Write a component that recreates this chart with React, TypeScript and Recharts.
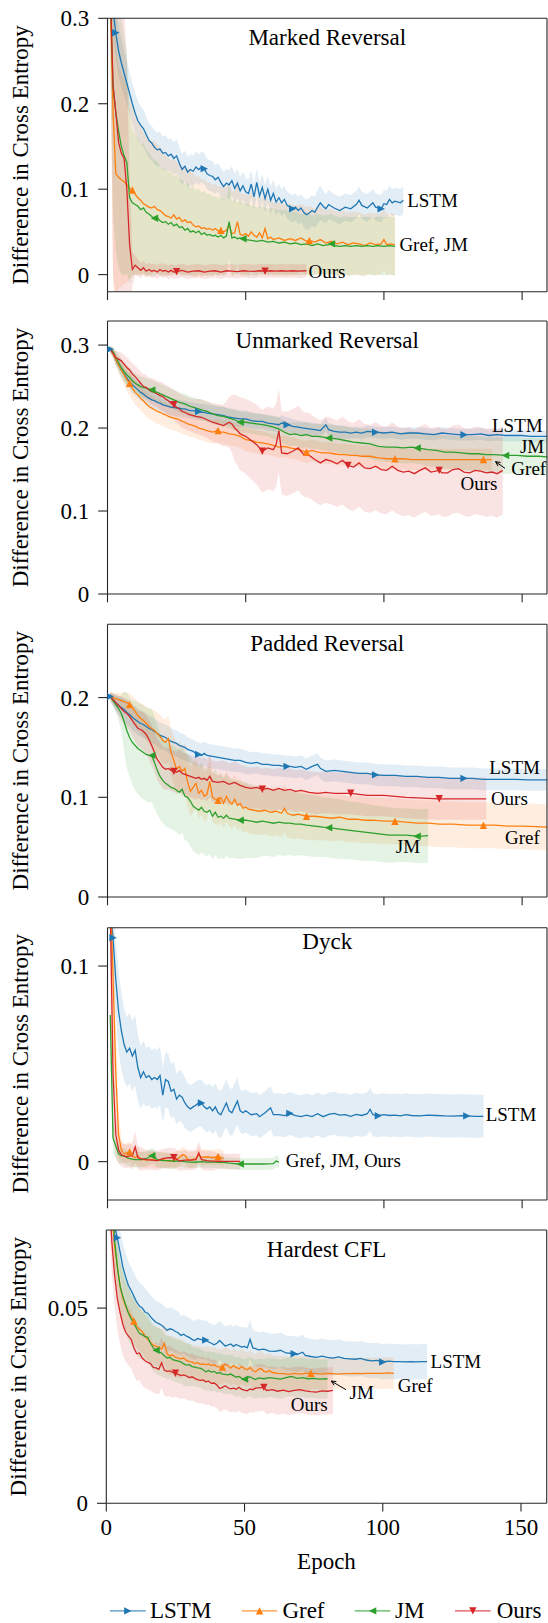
import React from 'react';
import { ComposedChart, Line, Area, XAxis, YAxis, ReferenceLine, ReferenceDot } from 'recharts';

type Row = [number, number, number]; // epoch, mean, std
type Model = 'LSTM' | 'Gref' | 'JM' | 'Ours';

const FONT = "'Liberation Serif', 'Times New Roman', 'DejaVu Serif', serif";
const AXIS = '#262626';
const CHART_W = 560;
const COLOR: Record<Model, string> = { LSTM: '#1f77b4', Gref: '#ff7f0e', JM: '#2ca02c', Ours: '#d62728' };
const SHAPE: Record<Model, string> = { LSTM: 'right', Gref: 'up', JM: 'left', Ours: 'down' };
const MODELS: Model[] = ['LSTM', 'Gref', 'JM', 'Ours'];
const epochTicks = [0, 50, 100, 150];

// ---------------- Marked Reversal ----------------
const markedLSTM: Row[] = [[1,.345,.03],[2,.31,.03],[3,.283,.03],[4,.262,.03],[5,.248,.028],[6,.236,.026],[7,.224,.025],[8,.212,.025],[9,.2,.024],[10,.189,.024],[11,.18,.023],[12,.175,.022],[13,.171,.022],[14,.164,.021],[15,.157,.02],[16,.154,.02],[17,.149,.02],[18,.146,.02],[19,.147,.02],[20,.142,.02],[21,.143,.02],[22,.139,.019],[23,.141,.019],[24,.136,.019],[25,.139,.02],[26,.13,.019],[27,.123,.018],[28,.127,.018],[29,.12,.018],[30,.123,.018],[31,.121,.018],[32,.126,.018],[33,.123,.018],[34,.126,.018],[35,.124,.018],[36,.118,.018],[37,.116,.018],[38,.115,.018],[39,.111,.017],[40,.114,.017],[41,.108,.017],[42,.103,.017],[43,.107,.017],[44,.105,.017],[45,.11,.017],[46,.101,.017],[47,.107,.017],[48,.098,.016],[49,.104,.016],[50,.097,.016],[51,.095,.016],[52,.106,.016],[53,.091,.016],[54,.108,.016],[55,.092,.016],[56,.102,.016],[57,.089,.016],[58,.1,.016],[59,.087,.016],[60,.095,.016],[61,.085,.016],[62,.09,.016],[63,.084,.016],[64,.088,.016],[65,.081,.016],[66,.079,.016],[67,.077,.016],[68,.079,.016],[69,.075,.016],[70,.078,.016],[71,.073,.017],[72,.07,.018],[73,.072,.018],[74,.075,.018],[75,.073,.018],[76,.079,.02],[77,.084,.02],[78,.08,.018],[79,.077,.017],[80,.082,.017],[82,.078,.016],[84,.075,.016],[86,.079,.016],[88,.077,.016],[90,.082,.016],[91,.087,.016],[92,.081,.016],[94,.078,.016],[96,.084,.016],[97,.079,.016],[99,.077,.016],[100,.083,.016],[101,.082,.016],[102,.088,.016],[103,.084,.016],[104,.086,.016],[106,.084,.016],[107,.087,.016]];
const markedGref: Row[] = [[1,.33,.05],[2,.19,.2],[3,.118,.15],[4,.114,.13],[5,.111,.125],[6,.109,.12],[7,.105,.115],[8,.101,.105],[9,.099,.1],[10,.094,.094],[11,.09,.09],[12,.087,.087],[13,.083,.084],[14,.081,.082],[15,.079,.08],[16,.078,.078],[17,.08,.077],[18,.076,.076],[19,.075,.075],[20,.072,.073],[21,.069,.071],[22,.068,.069],[23,.066,.068],[24,.07,.067],[25,.065,.066],[26,.067,.065],[27,.062,.064],[28,.064,.063],[29,.061,.062],[30,.062,.062],[31,.058,.06],[32,.056,.059],[33,.057,.058],[34,.054,.057],[35,.055,.056],[36,.053,.055],[37,.054,.054],[38,.052,.053],[39,.054,.053],[40,.051,.052],[41,.052,.052],[42,.05,.051],[43,.052,.051],[44,.058,.05],[45,.048,.05],[46,.049,.049],[47,.062,.049],[48,.047,.048],[49,.046,.048],[50,.048,.047],[51,.045,.047],[52,.05,.046],[53,.046,.046],[54,.044,.045],[55,.049,.045],[56,.043,.044],[57,.054,.044],[58,.042,.044],[59,.044,.043],[60,.041,.043],[62,.043,.042],[64,.04,.042],[66,.042,.041],[68,.04,.041],[70,.043,.04],[72,.039,.04],[73,.04,.04],[75,.038,.039],[77,.041,.039],[79,.037,.038],[81,.039,.038],[83,.036,.038],[85,.038,.037],[87,.035,.037],[89,.037,.037],[91,.036,.037],[93,.034,.036],[95,.037,.036],[97,.035,.036],[99,.036,.036],[100,.041,.036],[101,.035,.036],[102,.036,.036],[104,.035,.036]];
const markedJM: Row[] = [[1,.33,.1],[2,.22,.15],[3,.19,.16],[4,.168,.16],[5,.15,.15],[6,.139,.14],[7,.131,.13],[8,.09,.1],[9,.084,.085],[10,.082,.082],[11,.08,.08],[12,.076,.076],[13,.078,.076],[14,.073,.074],[15,.071,.072],[16,.068,.07],[17,.066,.068],[18,.067,.066],[19,.063,.064],[20,.061,.062],[21,.062,.062],[22,.059,.06],[23,.061,.06],[24,.057,.058],[25,.059,.058],[26,.055,.056],[27,.056,.056],[28,.052,.054],[29,.054,.054],[30,.05,.052],[31,.051,.052],[32,.049,.05],[33,.051,.05],[34,.047,.049],[35,.049,.049],[36,.046,.048],[37,.047,.048],[38,.045,.047],[39,.046,.046],[40,.044,.046],[41,.046,.045],[42,.043,.045],[43,.045,.044],[44,.062,.044],[45,.043,.044],[46,.044,.043],[47,.042,.043],[48,.043,.042],[49,.042,.042],[50,.041,.042],[52,.04,.041],[54,.039,.04],[56,.04,.04],[58,.038,.039],[60,.039,.039],[62,.037,.038],[64,.038,.038],[66,.036,.037],[68,.037,.037],[70,.035,.036],[72,.036,.036],[74,.034,.035],[76,.036,.035],[78,.034,.035],[80,.035,.035],[81,.036,.035],[82,.034,.035],[84,.033,.034],[86,.034,.034],[88,.033,.034],[90,.034,.034],[92,.033,.034],[94,.034,.034],[96,.033,.034],[98,.034,.034],[100,.033,.034],[102,.034,.034],[104,.033,.034]];
const markedOurs: Row[] = [[1,.34,.05],[2,.222,.22],[3,.19,.22],[4,.155,.22],[5,.142,.2],[6,.136,.18],[7,.1,.15],[8,.035,.08],[9,.006,.02],[10,.011,.012],[11,.008,.01],[12,.005,.009],[13,.008,.008],[14,.004,.008],[15,.006,.008],[16,.004,.008],[17,.005,.008],[18,.003,.008],[19,.006,.008],[20,.004,.008],[21,.005,.008],[22,.003,.008],[23,.005,.008],[24,.003,.008],[25,.0035,.008],[27,.005,.008],[29,.003,.008],[31,.004,.008],[33,.0045,.008],[35,.003,.008],[37,.004,.008],[39,.0045,.008],[41,.003,.008],[43,.0045,.008],[45,.004,.008],[47,.0035,.008],[49,.0045,.008],[51,.004,.008],[53,.0038,.008],[55,.0045,.008],[57,.004,.008],[59,.0045,.008],[61,.004,.008],[63,.0045,.008],[65,.004,.008],[67,.0045,.008],[69,.004,.008],[72,.0045,.008]];
const markedLSTMMarks = [3, 35, 67, 99];
const markedGrefMarks = [9, 41, 73];
const markedJMMarks = [17, 49, 81];
const markedOursMarks = [25, 57];

// ---------------- Unmarked Reversal ----------------
const unmarkedLSTM: Row[] = [[1,.295,.004],[2,.291,.005],[3,.283,.006],[4,.276,.007],[5,.27,.008],[6,.265,.008],[7,.26,.009],[8,.256,.009],[9,.252,.01],[10,.249,.01],[11,.246,.01],[12,.243,.01],[13,.241,.01],[14,.238,.01],[15,.236,.01],[16,.234,.01],[17,.233,.01],[18,.231,.01],[19,.23,.01],[20,.228,.01],[21,.227,.01],[22,.226,.01],[23,.225,.01],[24,.225,.01],[25,.224,.01],[26,.224,.01],[27,.223,.01],[28,.223,.01],[29,.222,.01],[30,.221,.01],[31,.221,.01],[32,.22,.01],[33,.22,.01],[34,.219,.01],[35,.219,.01],[36,.218,.01],[38,.217,.01],[40,.216,.01],[42,.215,.01],[44,.213,.01],[46,.212,.01],[48,.211,.01],[50,.211,.01],[52,.209,.009],[54,.208,.009],[56,.208,.009],[58,.206,.009],[60,.205,.009],[62,.204,.009],[63,.206,.009],[65,.204,.009],[67,.202,.009],[69,.201,.008],[71,.2,.008],[73,.199,.008],[75,.198,.008],[77,.197,.008],[79,.204,.008],[80,.198,.008],[82,.196,.008],[84,.195,.008],[86,.195,.008],[88,.194,.007],[90,.195,.007],[92,.194,.007],[94,.196,.007],[97,.195,.007],[100,.194,.007],[103,.195,.007],[106,.193,.007],[109,.194,.007],[112,.194,.007],[115,.193,.007],[118,.192,.007],[121,.194,.007],[124,.193,.007],[127,.192,.007],[129,.192,.007],[132,.192,.007],[135,.193,.007],[138,.191,.007],[141,.192,.007],[144,.191,.007],[147,.191,.007],[150,.191,.007],[153,.19,.007],[156,.19,.007],[160,.19,.007]];
const unmarkedGref: Row[] = [[1,.295,.004],[2,.29,.006],[3,.283,.008],[4,.276,.01],[5,.27,.012],[6,.264,.013],[7,.258,.014],[8,.254,.015],[9,.248,.015],[10,.243,.015],[11,.24,.015],[12,.236,.015],[13,.233,.015],[14,.229,.015],[15,.226,.015],[16,.224,.015],[17,.222,.015],[18,.22,.015],[19,.219,.015],[20,.217,.015],[21,.216,.015],[22,.214,.015],[23,.213,.015],[24,.212,.015],[25,.211,.015],[26,.21,.015],[27,.208,.015],[28,.207,.015],[29,.205,.015],[30,.204,.015],[31,.203,.014],[32,.202,.014],[33,.2,.014],[34,.199,.014],[35,.198,.014],[36,.197,.014],[37,.196,.014],[38,.195,.014],[39,.196,.014],[40,.197,.014],[41,.195,.014],[42,.195,.014],[44,.193,.014],[46,.192,.014],[48,.19,.014],[50,.186,.014],[52,.185,.014],[54,.183,.014],[56,.182,.014],[58,.181,.013],[60,.179,.013],[62,.177,.013],[64,.178,.013],[66,.176,.013],[68,.175,.013],[70,.173,.013],[72,.171,.013],[74,.173,.013],[76,.171,.013],[78,.17,.013],[80,.17,.013],[82,.169,.013],[84,.168,.013],[86,.168,.013],[88,.167,.013],[90,.167,.013],[92,.166,.013],[95,.166,.013],[98,.164,.013],[101,.163,.013],[104,.163,.013],[107,.163,.013],[110,.162,.013],[114,.162,.013],[118,.162,.013],[122,.162,.013],[126,.162,.013],[130,.162,.013],[134,.162,.013],[136,.162,.013],[139,.162,.013]];
const unmarkedJM: Row[] = [[1,.295,.004],[2,.292,.006],[3,.285,.008],[4,.279,.01],[5,.273,.011],[6,.268,.012],[7,.264,.012],[8,.261,.012],[9,.257,.012],[10,.254,.012],[11,.252,.012],[12,.25,.012],[14,.248,.012],[16,.246,.012],[18,.243,.012],[20,.24,.012],[22,.237,.012],[24,.234,.012],[26,.231,.012],[28,.229,.012],[30,.226,.012],[32,.224,.012],[34,.222,.012],[36,.22,.012],[38,.217,.012],[40,.215,.012],[42,.214,.012],[44,.212,.012],[46,.21,.013],[48,.207,.013],[50,.207,.013],[52,.206,.013],[54,.205,.013],[56,.204,.013],[58,.203,.013],[60,.201,.014],[62,.199,.014],[64,.195,.014],[66,.192,.014],[68,.193,.014],[70,.191,.015],[72,.192,.015],[74,.19,.015],[76,.19,.015],[78,.189,.016],[80,.188,.016],[83,.187,.016],[86,.185,.017],[89,.183,.017],[92,.182,.017],[95,.181,.018],[98,.178,.018],[101,.177,.018],[104,.177,.018],[107,.176,.019],[110,.177,.019],[112,.176,.019],[116,.174,.02],[119,.173,.02],[122,.171,.02],[125,.171,.02],[128,.17,.02],[131,.169,.021],[134,.169,.021],[137,.168,.021],[140,.168,.021],[144,.167,.022],[148,.167,.022],[152,.166,.022],[156,.166,.022],[160,.165,.022]];
const unmarkedOurs: Row[] = [[1,.295,.004],[2,.29,.006],[3,.285,.008],[4,.283,.009],[5,.281,.01],[6,.277,.011],[7,.273,.012],[8,.27,.012],[9,.265,.013],[10,.262,.013],[11,.258,.014],[12,.254,.014],[13,.25,.015],[14,.249,.015],[15,.246,.015],[16,.244,.016],[17,.243,.016],[18,.241,.016],[19,.239,.017],[20,.238,.017],[21,.235,.017],[22,.233,.018],[23,.23,.018],[24,.228,.018],[25,.225,.019],[26,.223,.019],[27,.22,.02],[28,.219,.02],[29,.217,.02],[30,.216,.02],[32,.214,.021],[34,.213,.022],[36,.21,.022],[38,.207,.023],[40,.205,.024],[42,.203,.025],[44,.207,.03],[45,.205,.035],[46,.2,.04],[47,.197,.042],[48,.193,.044],[50,.19,.045],[52,.185,.047],[54,.18,.048],[56,.172,.05],[58,.176,.05],[60,.174,.05],[61,.18,.05],[62,.197,.05],[63,.17,.05],[65,.169,.051],[67,.172,.051],[69,.176,.051],[71,.168,.051],[73,.167,.051],[75,.162,.051],[77,.158,.051],[79,.162,.052],[81,.16,.052],[83,.157,.052],[85,.161,.053],[87,.155,.053],[89,.153,.053],[91,.158,.053],[93,.152,.053],[95,.151,.053],[97,.154,.053],[99,.15,.053],[101,.149,.053],[103,.154,.053],[105,.149,.053],[107,.147,.053],[109,.148,.053],[111,.145,.053],[113,.149,.053],[115,.152,.053],[117,.147,.053],[120,.149,.053],[121,.146,.053],[123,.146,.053],[125,.15,.053],[127,.151,.053],[129,.147,.053],[131,.146,.053],[133,.149,.053],[135,.148,.053],[137,.146,.053],[139,.147,.053],[141,.145,.053],[143,.149,.053]];
const unmarkedLSTMMarks = [1, 33, 65, 97, 129];
const unmarkedGrefMarks = [8, 40, 72, 104, 136];
const unmarkedJMMarks = [16, 48, 80, 112, 144];
const unmarkedOursMarks = [24, 56, 88, 120];

// ---------------- Padded Reversal ----------------
const paddedLSTM: Row[] = [[1,.201,.004],[2,.198,.006],[3,.195,.008],[4,.192,.009],[5,.19,.01],[6,.188,.011],[7,.185,.012],[8,.183,.012],[9,.18,.013],[10,.178,.013],[11,.176,.013],[12,.174,.013],[13,.173,.013],[14,.171,.013],[15,.169,.013],[16,.168,.013],[17,.166,.013],[18,.164,.013],[19,.162,.013],[20,.161,.013],[21,.16,.013],[22,.158,.013],[23,.156,.013],[24,.155,.013],[25,.154,.013],[26,.152,.013],[27,.151,.013],[28,.15,.013],[29,.148,.012],[30,.147,.012],[31,.146,.012],[32,.144,.012],[33,.143,.012],[34,.142,.012],[35,.144,.012],[36,.142,.012],[38,.141,.012],[40,.14,.012],[42,.139,.012],[44,.138,.012],[46,.137,.012],[48,.137,.012],[50,.135,.012],[52,.134,.011],[54,.135,.011],[56,.133,.011],[58,.133,.011],[60,.132,.011],[62,.132,.011],[64,.131,.011],[65,.131,.011],[66,.131,.011],[68,.13,.011],[70,.131,.011],[72,.128,.011],[74,.131,.011],[76,.133,.011],[77,.129,.011],[79,.126,.011],[82,.127,.011],[85,.126,.011],[88,.125,.011],[91,.124,.011],[94,.124,.011],[97,.1225,.011],[100,.122,.011],[104,.122,.011],[108,.121,.011],[112,.121,.011],[116,.12,.011],[120,.12,.011],[124,.119,.011],[129,.119,.011],[132,.119,.011],[136,.118,.011],[140,.118,.011],[144,.118,.011],[148,.118,.011],[152,.1175,.011],[156,.1175,.011],[160,.1175,.011]];
const paddedGref: Row[] = [[1,.202,.004],[2,.2,.005],[3,.199,.006],[4,.198,.007],[5,.197,.008],[6,.196,.009],[7,.195,.01],[8,.193,.011],[9,.19,.012],[10,.186,.013],[11,.182,.014],[12,.179,.015],[13,.177,.016],[14,.174,.017],[15,.171,.018],[16,.169,.019],[17,.167,.02],[18,.164,.021],[19,.161,.022],[20,.157,.022],[21,.155,.023],[22,.159,.023],[23,.145,.024],[24,.137,.024],[25,.128,.025],[26,.131,.025],[27,.126,.025],[28,.129,.025],[29,.115,.025],[30,.106,.025],[31,.11,.025],[32,.114,.025],[33,.104,.025],[34,.107,.025],[35,.101,.025],[36,.103,.025],[37,.116,.025],[38,.1,.025],[39,.098,.025],[40,.097,.025],[41,.1,.025],[42,.094,.025],[43,.101,.025],[44,.096,.025],[45,.093,.025],[46,.098,.025],[47,.092,.025],[48,.094,.025],[49,.089,.024],[50,.09,.024],[51,.088,.024],[53,.087,.024],[55,.086,.024],[57,.087,.024],[59,.085,.024],[61,.086,.024],[63,.084,.024],[64,.089,.024],[65,.084,.024],[67,.082,.024],[69,.083,.024],[72,.081,.024],[75,.081,.024],[78,.08,.023],[81,.079,.023],[84,.08,.023],[87,.078,.023],[90,.078,.023],[93,.077,.023],[96,.077,.023],[100,.076,.023],[104,.076,.023],[108,.075,.023],[112,.074,.023],[116,.074,.023],[120,.073,.023],[125,.073,.023],[130,.072,.023],[136,.072,.023],[140,.072,.023],[145,.071,.023],[150,.071,.023],[155,.0705,.023],[160,.07,.023]];
const paddedJM: Row[] = [[1,.201,.004],[2,.197,.006],[3,.193,.008],[4,.189,.012],[5,.184,.018],[6,.176,.03],[7,.167,.038],[8,.16,.04],[9,.155,.042],[10,.152,.045],[11,.149,.046],[12,.147,.047],[13,.145,.047],[14,.143,.047],[15,.142,.047],[16,.142,.047],[17,.135,.046],[18,.127,.044],[19,.121,.043],[20,.117,.043],[21,.114,.043],[22,.112,.042],[23,.11,.042],[24,.109,.042],[25,.107,.042],[26,.105,.043],[27,.108,.043],[28,.101,.044],[29,.1,.044],[30,.096,.045],[31,.091,.045],[32,.089,.045],[33,.087,.045],[34,.09,.045],[35,.086,.044],[36,.085,.044],[37,.087,.044],[38,.081,.043],[39,.085,.043],[40,.08,.042],[41,.081,.042],[42,.079,.041],[43,.082,.041],[44,.079,.04],[46,.078,.039],[48,.077,.039],[50,.077,.038],[52,.076,.037],[54,.075,.036],[56,.076,.035],[58,.075,.034],[60,.074,.034],[62,.075,.033],[64,.074,.033],[66,.074,.032],[68,.073,.032],[70,.073,.031],[72,.072,.031],[75,.071,.031],[78,.07,.03],[80,.0695,.03],[84,.068,.03],[87,.067,.029],[90,.066,.029],[93,.065,.029],[96,.064,.028],[99,.063,.028],[102,.062,.028],[105,.062,.027],[108,.062,.027],[112,.061,.027],[114,.061,.027],[116,.0615,.027]];
const paddedOurs: Row[] = [[1,.201,.004],[2,.198,.006],[3,.195,.008],[4,.192,.01],[5,.189,.012],[6,.186,.013],[7,.184,.014],[8,.181,.015],[9,.177,.016],[10,.173,.017],[11,.169,.018],[12,.168,.018],[13,.166,.019],[14,.163,.019],[15,.158,.02],[16,.152,.02],[17,.145,.02],[18,.138,.021],[19,.134,.021],[20,.13,.021],[21,.128,.021],[22,.129,.021],[23,.127,.021],[24,.126,.021],[25,.125,.021],[26,.127,.021],[27,.124,.021],[28,.123,.021],[29,.122,.021],[30,.121,.021],[31,.12,.021],[32,.119,.021],[33,.12,.021],[34,.118,.021],[35,.119,.021],[36,.117,.021],[37,.121,.021],[38,.116,.021],[40,.115,.021],[42,.116,.021],[44,.113,.021],[46,.115,.021],[48,.112,.021],[50,.11,.021],[52,.109,.021],[54,.11,.021],[56,.108,.021],[58,.109,.021],[60,.107,.021],[62,.109,.021],[64,.107,.021],[66,.108,.021],[68,.106,.021],[70,.107,.021],[73,.105,.021],[76,.104,.021],[79,.105,.021],[82,.104,.021],[85,.104,.021],[88,.104,.021],[91,.103,.021],[94,.102,.021],[97,.102,.021],[100,.102,.021],[104,.101,.021],[108,.1,.021],[112,.0995,.021],[116,.099,.021],[120,.0985,.021],[124,.0985,.021],[128,.0985,.021],[132,.0985,.021],[137,.0985,.021]];
const paddedLSTMMarks = [1, 33, 65, 97, 129];
const paddedGrefMarks = [8, 40, 72, 104, 136];
const paddedJMMarks = [16, 48, 80, 112];
const paddedOursMarks = [24, 56, 88, 120];

// ---------------- Dyck ----------------
const dyckLSTM: Row[] = [[1,.128,.02],[2,.1145,.02],[3,.093,.02],[4,.077,.02],[5,.067,.02],[6,.06,.018],[7,.056,.018],[8,.058,.018],[9,.054,.018],[10,.057,.018],[11,.048,.017],[12,.043,.016],[13,.046,.016],[14,.043,.015],[15,.044,.015],[16,.042,.015],[17,.043,.015],[18,.042,.015],[19,.044,.015],[20,.034,.014],[21,.042,.014],[22,.041,.014],[23,.036,.014],[24,.037,.014],[25,.032,.013],[26,.034,.013],[27,.033,.013],[28,.03,.013],[29,.028,.012],[30,.027,.012],[31,.028,.012],[32,.029,.012],[33,.03,.012],[34,.03,.012],[35,.028,.012],[36,.027,.012],[37,.028,.012],[38,.026,.012],[39,.028,.012],[40,.025,.012],[41,.024,.012],[42,.027,.012],[43,.03,.012],[44,.026,.012],[45,.025,.012],[46,.028,.012],[47,.031,.012],[48,.026,.011],[49,.025,.011],[50,.026,.011],[52,.024,.011],[54,.0245,.011],[55,.023,.011],[57,.025,.011],[59,.0275,.011],[60,.024,.011],[62,.024,.011],[64,.0235,.011],[66,.0247,.011],[68,.0235,.011],[70,.023,.011],[72,.0238,.011],[74,.023,.011],[76,.0245,.011],[78,.023,.011],[80,.0242,.011],[82,.0247,.011],[84,.0238,.011],[86,.024,.011],[88,.0232,.011],[90,.0242,.011],[92,.0236,.011],[94,.0245,.011],[95,.0268,.011],[96,.024,.011],[98,.0235,.011],[100,.024,.011],[102,.0236,.011],[104,.0238,.011],[106,.0234,.011],[108,.024,.011],[110,.0236,.011],[113,.0234,.011],[116,.0238,.011],[119,.0236,.011],[122,.0234,.011],[125,.0233,.011],[128,.0235,.011],[130,.0234,.011],[133,.0232,.011],[136,.0232,.011]];
const dyckGref: Row[] = [[1,.14,.02],[2,.095,.03],[3,.045,.025],[4,.014,.012],[5,.006,.006],[6,.004,.005],[7,.0045,.005],[8,.005,.005],[9,.003,.005],[10,.002,.005],[11,.003,.005],[12,.001,.004],[13,.0012,.004],[14,.0008,.004],[16,.0012,.004],[18,.0005,.004],[20,.001,.004],[22,.0003,.004],[24,.0005,.004],[26,.002,.004],[27,.0035,.004],[28,.0032,.004],[29,.001,.004],[30,.0008,.004],[32,.0015,.004],[33,.0035,.004],[34,.002,.004],[36,.0025,.004],[38,.002,.004],[40,.0026,.004],[41,.0022,.004],[42,.0015,.004]];
const dyckJM: Row[] = [[1,.075,.02],[2,.012,.008],[3,.008,.006],[4,.004,.005],[5,.003,.004],[6,.003,.004],[7,.002,.004],[8,.0015,.004],[10,.001,.004],[12,.001,.004],[14,.0015,.004],[16,.003,.004],[17,.0025,.004],[18,.001,.004],[20,.0006,.004],[22,.0005,.004],[24,.0002,.004],[26,.0004,.003],[28,0,.003],[30,-.0002,.003],[32,-.0003,.003],[34,0,.003],[36,-.0002,.003],[38,-.0001,.003],[40,-.0004,.003],[42,-.0003,.003],[44,-.0008,.003],[46,-.001,.003],[48,-.0012,.003],[50,-.0012,.003],[52,-.0012,.003],[54,-.0012,.003],[56,-.0012,.003],[58,-.0011,.003],[60,-.001,.003],[61,.0003,.003],[62,-.0002,.003]];
const dyckOurs: Row[] = [[1,.13,.03],[2,.045,.03],[3,.014,.012],[4,.006,.007],[5,.0035,.006],[6,.003,.006],[7,.0025,.006],[8,.003,.006],[9,.003,.007],[10,.0075,.008],[11,.002,.006],[12,.0015,.006],[14,.001,.005],[16,.0008,.005],[18,.0005,.005],[20,.0015,.005],[22,.002,.005],[24,.002,.005],[26,.0004,.005],[28,.0008,.005],[30,.0008,.005],[32,.001,.005],[33,.0045,.006],[34,.001,.005],[36,.0005,.005],[38,.0003,.005],[40,.0002,.004],[42,.0001,.004],[44,.0001,.004],[46,.0001,.004],[48,.0001,.004]];
const dyckLSTMMarks = [2, 34, 66, 98, 130];
const dyckGrefMarks = [8, 40];
const dyckJMMarks = [16, 48];
const dyckOursMarks = [24];

// ---------------- Hardest CFL ----------------
const cflLSTM: Row[] = [[1,.085,.006],[2,.078,.006],[3,.071,.006],[4,.068,.006],[5,.0643,.006],[6,.0605,.006],[7,.058,.006],[8,.0558,.006],[9,.0545,.006],[10,.053,.006],[11,.0515,.006],[12,.0505,.006],[13,.05,.006],[14,.049,.006],[15,.0487,.0055],[16,.0478,.0055],[17,.047,.0055],[18,.0463,.0055],[19,.046,.0055],[20,.0456,.0055],[21,.045,.0055],[22,.0443,.0055],[23,.0447,.0055],[24,.0445,.0055],[25,.044,.0055],[26,.0437,.0055],[27,.043,.005],[28,.0433,.005],[29,.0428,.005],[30,.0425,.005],[31,.042,.005],[32,.0417,.005],[33,.0422,.005],[34,.042,.005],[35,.0418,.005],[36,.0418,.005],[37,.0413,.005],[38,.041,.005],[39,.0406,.005],[40,.041,.005],[41,.0417,.005],[42,.041,.005],[43,.0403,.005],[44,.0405,.005],[45,.0408,.005],[46,.0402,.005],[47,.0407,.005],[48,.0403,.005],[49,.04,.005],[50,.0402,.005],[51,.0398,.005],[52,.042,.005],[53,.0398,.0045],[54,.0396,.0045],[55,.0393,.0045],[57,.0395,.0045],[59,.039,.0045],[61,.0389,.0045],[63,.0392,.0045],[65,.0385,.0045],[68,.0383,.0045],[69,.0381,.0045],[71,.0387,.0045],[72,.0379,.0045],[74,.0376,.0045],[76,.0374,.0045],[78,.0377,.0045],[80,.0374,.0045],[82,.0372,.0045],[84,.0375,.0045],[86,.0371,.0045],[88,.037,.0045],[90,.0369,.0045],[92,.0371,.0045],[94,.0367,.0045],[96,.0365,.0045],[98,.0366,.0045],[100,.0362,.0045],[102,.0364,.0045],[104,.0363,.0045],[106,.0363,.0045],[108,.0362,.0045],[110,.0363,.0045],[112,.0362,.0045],[114,.0363,.0045],[116,.0363,.0045]];
const cflGref: Row[] = [[1,.09,.006],[2,.075,.006],[3,.066,.006],[4,.0605,.006],[5,.0555,.006],[6,.0525,.006],[7,.0505,.006],[8,.049,.006],[9,.0478,.0055],[10,.0467,.0055],[11,.0453,.0055],[12,.0445,.0055],[13,.044,.0055],[14,.0428,.0055],[15,.042,.0055],[16,.0412,.005],[17,.0405,.005],[18,.0402,.005],[19,.04,.005],[20,.0395,.005],[21,.041,.005],[22,.0382,.005],[23,.0378,.005],[24,.038,.005],[25,.0374,.005],[26,.0372,.005],[27,.037,.005],[28,.0372,.0045],[29,.0366,.0045],[30,.0363,.0045],[31,.0362,.0045],[32,.0358,.0045],[33,.036,.0045],[34,.0356,.0045],[35,.0357,.0045],[36,.0355,.0045],[37,.0357,.0045],[38,.0353,.0045],[39,.0355,.0045],[40,.035,.0045],[42,.0349,.0045],[43,.0356,.0045],[44,.0353,.0045],[45,.0346,.0045],[46,.0352,.0045],[47,.0348,.0045],[48,.0344,.0045],[49,.0351,.0045],[50,.0345,.0045],[51,.0342,.0045],[52,.0348,.0045],[53,.034,.0045],[54,.0337,.0045],[55,.0343,.0045],[56,.0345,.0045],[57,.0338,.0045],[58,.0336,.0045],[59,.034,.0045],[60,.0335,.0045],[62,.0333,.0045],[64,.0332,.0045],[66,.033,.0045],[68,.0333,.0045],[70,.0331,.0045],[72,.0333,.0045],[74,.0333,.004],[76,.0332,.004],[78,.0331,.004],[80,.0333,.004],[82,.0332,.004],[84,.0331,.004],[86,.0332,.004],[88,.0332,.004],[90,.0333,.004],[92,.0332,.004],[94,.0333,.004],[96,.0333,.004],[98,.0333,.004],[100,.0333,.004],[102,.0334,.004],[104,.0333,.004]];
const cflJM: Row[] = [[1,.092,.008],[2,.08,.008],[3,.0675,.008],[4,.0605,.007],[5,.0556,.007],[6,.053,.007],[7,.0508,.007],[8,.0487,.007],[9,.0472,.0065],[10,.046,.0065],[11,.0447,.0065],[12,.0435,.0065],[13,.0432,.006],[14,.0427,.006],[15,.0425,.006],[16,.041,.006],[17,.0398,.006],[18,.0392,.006],[19,.0388,.006],[20,.0385,.006],[21,.0378,.0055],[22,.0372,.0055],[23,.0374,.0055],[24,.0368,.0055],[25,.0366,.0055],[26,.0364,.0055],[27,.0362,.0055],[28,.0357,.0055],[29,.0354,.0055],[30,.0355,.0055],[31,.035,.005],[32,.0349,.005],[33,.0347,.005],[34,.0346,.005],[35,.0342,.005],[36,.0337,.005],[37,.034,.005],[38,.0336,.005],[39,.0338,.005],[40,.0333,.005],[41,.0335,.005],[42,.0331,.005],[43,.033,.005],[44,.0329,.005],[45,.0331,.005],[46,.0327,.005],[47,.0323,.005],[48,.0325,.005],[49,.032,.005],[50,.0318,.005],[51,.0323,.005],[52,.0324,.005],[53,.032,.005],[54,.0317,.005],[55,.0321,.005],[57,.0319,.005],[59,.0322,.005],[61,.032,.005],[63,.0318,.005],[65,.0322,.005],[67,.0325,.005],[69,.032,.005],[71,.0322,.005],[73,.0319,.005],[75,.032,.005],[77,.0318,.005],[80,.0319,.005]];
const cflOurs: Row[] = [[1,.08,.008],[2,.067,.008],[3,.0584,.008],[4,.0524,.008],[5,.0488,.008],[6,.0458,.008],[7,.0438,.0075],[8,.0428,.0075],[9,.042,.0075],[10,.0398,.007],[11,.0383,.007],[12,.0385,.007],[13,.0372,.007],[14,.0365,.007],[15,.0361,.007],[16,.0358,.007],[17,.0348,.0065],[18,.0347,.0065],[19,.0343,.0065],[20,.036,.0065],[21,.0341,.0065],[22,.0338,.0065],[23,.0339,.0065],[24,.0335,.0065],[25,.0333,.006],[26,.033,.006],[27,.0327,.006],[28,.0329,.006],[29,.0326,.006],[30,.0322,.006],[31,.0324,.006],[32,.032,.006],[33,.0317,.006],[34,.0315,.006],[35,.0316,.006],[36,.0311,.006],[37,.0313,.006],[38,.0307,.006],[39,.0308,.006],[40,.0303,.006],[41,.0294,.006],[42,.0297,.006],[43,.0301,.006],[44,.0296,.006],[45,.0293,.006],[46,.0295,.006],[47,.0292,.006],[48,.0297,.006],[49,.0292,.006],[50,.029,.006],[51,.0288,.006],[52,.0293,.006],[53,.0291,.006],[54,.0295,.006],[57,.0297,.006],[58,.0289,.006],[60,.0291,.006],[62,.0287,.006],[64,.029,.006],[66,.0286,.006],[68,.0289,.006],[70,.0291,.006],[72,.0288,.006],[74,.0286,.006],[76,.0285,.006],[78,.0288,.006],[80,.0287,.006],[82,.0289,.006]];
const cflLSTMMarks = [4, 36, 68, 100];
const cflGrefMarks = [10, 42, 74];
const cflJMMarks = [18, 50];
const cflOursMarks = [25, 57];

// ---------------- annotations (label, epoch, value) ----------------
type Note = [string, number, number];
const markedNotes: Note[] = [['LSTM', 108.4, 0.0873], ['Gref, JM', 105.6, 0.0354], ['Ours', 72.7, 0.0033]];
const unmarkedNotes: Note[] = [['LSTM', 139.1, 0.2036], ['JM', 149.2, 0.1775], ['Gref', 146.1, 0.1514], ['Ours', 127.7, 0.1334]];
const paddedNotes: Note[] = [['LSTM', 138.1, 0.1301], ['Ours', 138.7, 0.0983], ['Gref', 143.8, 0.0595], ['JM', 104.3, 0.0505]];
const dyckNotes: Note[] = [['LSTM', 136.8, 0.0239], ['Gref, JM, Ours', 64.5, 0.0004]];
const cflNotes: Note[] = [['LSTM', 117.3, 0.0362], ['Gref', 105.4, 0.0302], ['JM', 88, 0.0285], ['Ours', 66.7, 0.0254]];
const unmarkedArrows: [number, number, number, number][] = [[143.8, 0.1514, 140.4, 0.1594]];
const cflArrows: [number, number, number, number][] = [[86.7, 0.0291, 81.4, 0.0313]];

// ---------------- helpers ----------------
function triPoints(kind: string, cx: number, cy: number, s: number): string {
  if (kind === 'up') return `${cx},${cy - s} ${cx - s},${cy + s} ${cx + s},${cy + s}`;
  if (kind === 'down') return `${cx},${cy + s} ${cx - s},${cy - s} ${cx + s},${cy - s}`;
  if (kind === 'right') return `${cx + s},${cy} ${cx - s},${cy - s} ${cx - s},${cy + s}`;
  return `${cx - s},${cy} ${cx + s},${cy - s} ${cx + s},${cy + s}`;
}

function nearestIndices(rows: Row[], marks: number[]): Set<number> {
  const out = new Set<number>();
  marks.forEach((m) => {
    let bi = 0;
    let bd = Infinity;
    rows.forEach((r, i) => {
      const d = Math.abs(r[0] - m);
      if (d < bd) { bd = d; bi = i; }
    });
    out.add(bi);
  });
  return out;
}

function toData(rows: Row[]) {
  return rows.map(([x, m, s]) => ({ x, m, band: [m - s, m + s] }));
}

interface SeriesDef { model: Model; rows: Row[]; marks: number[] }
interface PanelDef {
  key: string; title: string; titleOffset: number; top: number; height: number;
  mTop: number; mBottom: number; mLeft: number; mRight: number; xMax: number;
  yDomain: [number, number]; yTicks: number[]; series: SeriesDef[];
  notes: Note[]; arrows: [number, number, number, number][]; bottom?: boolean;
}

const panels: PanelDef[] = [
  { key: 'p1', title: 'Marked Reversal', titleOffset: 26.7, top: 0, height: 330, mTop: 18.3, mBottom: 8.3, mLeft: 7.5, mRight: 13, xMax: 159,
    yDomain: [-0.02, 0.3], yTicks: [0, 0.1, 0.2, 0.3],
    series: [{ model: 'LSTM', rows: markedLSTM, marks: markedLSTMMarks }, { model: 'Gref', rows: markedGref, marks: markedGrefMarks }, { model: 'JM', rows: markedJM, marks: markedJMMarks }, { model: 'Ours', rows: markedOurs, marks: markedOursMarks }],
    notes: markedNotes, arrows: [] },
  { key: 'p2', title: 'Unmarked Reversal', titleOffset: 26.7, top: 300, height: 330, mTop: 21, mBottom: 6, mLeft: 7.5, mRight: 13, xMax: 159,
    yDomain: [0, 0.329], yTicks: [0, 0.1, 0.2, 0.3],
    series: [{ model: 'LSTM', rows: unmarkedLSTM, marks: unmarkedLSTMMarks }, { model: 'Gref', rows: unmarkedGref, marks: unmarkedGrefMarks }, { model: 'JM', rows: unmarkedJM, marks: unmarkedJMMarks }, { model: 'Ours', rows: unmarkedOurs, marks: unmarkedOursMarks }],
    notes: unmarkedNotes, arrows: unmarkedArrows },
  { key: 'p3', title: 'Padded Reversal', titleOffset: 26.4, top: 605, height: 330, mTop: 19.3, mBottom: 8, mLeft: 7.5, mRight: 13, xMax: 159,
    yDomain: [0, 0.2735], yTicks: [0, 0.1, 0.2],
    series: [{ model: 'LSTM', rows: paddedLSTM, marks: paddedLSTMMarks }, { model: 'Gref', rows: paddedGref, marks: paddedGrefMarks }, { model: 'JM', rows: paddedJM, marks: paddedJMMarks }, { model: 'Ours', rows: paddedOurs, marks: paddedOursMarks }],
    notes: paddedNotes, arrows: [] },
  { key: 'p4', title: 'Dyck', titleOffset: 21, top: 905, height: 330, mTop: 22.7, mBottom: 5, mLeft: 7.5, mRight: 13, xMax: 159,
    yDomain: [-0.0196, 0.1196], yTicks: [0, 0.1],
    series: [{ model: 'LSTM', rows: dyckLSTM, marks: dyckLSTMMarks }, { model: 'Gref', rows: dyckGref, marks: dyckGrefMarks }, { model: 'JM', rows: dyckJM, marks: dyckJMMarks }, { model: 'Ours', rows: dyckOurs, marks: dyckOursMarks }],
    notes: dyckNotes, arrows: [] },
  { key: 'p5', title: 'Hardest CFL', titleOffset: 26.7, top: 1210, height: 413, mTop: 20, mBottom: 89.7, mLeft: 6.3, mRight: 13.3, xMax: 159.3,
    yDomain: [0, 0.07], yTicks: [0, 0.05],
    series: [{ model: 'LSTM', rows: cflLSTM, marks: cflLSTMMarks }, { model: 'Gref', rows: cflGref, marks: cflGrefMarks }, { model: 'JM', rows: cflJM, marks: cflJMMarks }, { model: 'Ours', rows: cflOurs, marks: cflOursMarks }],
    notes: cflNotes, arrows: cflArrows, bottom: true },
];

// legend layout (x positions of handle start/end and text)
const legendLayout: Record<Model, [number, number, number]> = {
  LSTM: [110, 145.7, 150], Gref: [241.9, 277.2, 282.4], JM: [354.8, 390.4, 395], Ours: [455, 490.7, 496.7],
};

function Panel({ p }: { p: PanelDef }) {
  const [y0, y1] = p.yDomain;
  return (
    <div style={{ position: 'absolute', left: 0, top: p.top }}>
      <ComposedChart width={CHART_W} height={p.height} margin={{ top: p.mTop, right: p.mRight, bottom: p.mBottom, left: p.mLeft }}>
        <XAxis type="number" dataKey="x" domain={[0, p.xMax]} ticks={epochTicks} allowDataOverflow interval={0} height={30}
          axisLine={{ stroke: AXIS, strokeWidth: 1.1 }} tickLine={{ stroke: AXIS, strokeWidth: 1.1 }} tickSize={8.3} tickMargin={7}
          tick={{ fill: '#000', fontSize: 23, fontFamily: FONT }}
          tickFormatter={p.bottom ? (v: number) => String(v) : () => ''} />
        <YAxis type="number" domain={p.yDomain} ticks={p.yTicks} allowDataOverflow interval={0} width={100}
          axisLine={{ stroke: AXIS, strokeWidth: 1.1 }} tickLine={{ stroke: AXIS, strokeWidth: 1.1 }} tickSize={9.3} tickMargin={9}
          tick={{ fill: '#000', fontSize: 23, fontFamily: FONT }} tickFormatter={(v: number) => String(v)} />
        {p.series.map((s) => (
          <Area key={'band-' + s.model} data={toData(s.rows)} dataKey="band" type="linear" stroke="none"
            fill={COLOR[s.model]} fillOpacity={0.13} isAnimationActive={false} dot={false} activeDot={false} />
        ))}
        {p.series.map((s) => {
          const idx = nearestIndices(s.rows, s.marks);
          return (
            <Line key={'line-' + s.model} data={toData(s.rows)} dataKey="m" type="linear" stroke={COLOR[s.model]}
              strokeWidth={1.3} isAnimationActive={false} activeDot={false}
              dot={(d: any) => {
                const { cx, cy, index } = d;
                if (!idx.has(index) || cx == null || cy == null) return <g key={`e-${s.model}-${index}`} />;
                return <polygon key={`m-${s.model}-${index}`} points={triPoints(SHAPE[s.model], cx, cy, 3.7)} fill={COLOR[s.model]} />;
              }} />
          );
        })}
        <ReferenceLine y={y1} stroke={AXIS} strokeWidth={1.1} ifOverflow="visible" />
        <ReferenceLine x={p.xMax} stroke={AXIS} strokeWidth={1.1} ifOverflow="visible" />
        <ReferenceDot x={p.xMax / 2} y={y1} r={0} ifOverflow="visible"
          shape={(sp: any) => (
            <text x={sp.cx} y={sp.cy + p.titleOffset} textAnchor="middle" fontFamily={FONT} fontSize={23} fill="#000">{p.title}</text>
          )} />
        <ReferenceDot x={0} y={(y0 + y1) / 2} r={0} ifOverflow="visible"
          shape={(sp: any) => (
            <text transform={`translate(${sp.cx - 80}, ${sp.cy}) rotate(-90)`} x={0} y={0} textAnchor="middle"
              fontFamily={FONT} fontSize={23} fill="#000">Difference in Cross Entropy</text>
          )} />
        {p.notes.map(([label, nx, ny]) => (
          <ReferenceDot key={'note-' + label} x={nx} y={ny} r={0} ifOverflow="visible"
            shape={(sp: any) => (
              <text x={sp.cx} y={sp.cy} dominantBaseline="central" fontFamily={FONT} fontSize={19} fill="#000">{label}</text>
            )} />
        ))}
        {p.arrows.map((a, i) => (
          <ReferenceLine key={'arrow-' + i} segment={[{ x: a[0], y: a[1] }, { x: a[2], y: a[3] }]} ifOverflow="visible"
            shape={(sp: any) => {
              const { x1, y1: ya, x2, y2 } = sp;
              const ang = Math.atan2(y2 - ya, x2 - x1);
              const hl = 5;
              const h1x = x2 - hl * Math.cos(ang - 0.45), h1y = y2 - hl * Math.sin(ang - 0.45);
              const h2x = x2 - hl * Math.cos(ang + 0.45), h2y = y2 - hl * Math.sin(ang + 0.45);
              return (
                <g>
                  <line x1={x1} y1={ya} x2={x2} y2={y2} stroke="#000" strokeWidth={1} />
                  <polyline points={`${h1x},${h1y} ${x2},${y2} ${h2x},${h2y}`} fill="none" stroke="#000" strokeWidth={1} />
                </g>
              );
            }} />
        ))}
        {p.bottom && (
          <ReferenceDot x={p.xMax / 2} y={y0} r={0} ifOverflow="visible"
            shape={(sp: any) => (
              <text x={sp.cx} y={sp.cy + 65.7} textAnchor="middle" fontFamily={FONT} fontSize={23} fill="#000">Epoch</text>
            )} />
        )}
        {p.bottom && (
          <ReferenceDot x={0} y={y0} r={0} ifOverflow="visible"
            shape={(sp: any) => (
              <g>
                {MODELS.map((m) => {
                  const [lx1, lx2, tx] = legendLayout[m];
                  const ly = sp.cy + 107.6;
                  return (
                    <g key={'leg-' + m}>
                      <line x1={lx1} y1={ly} x2={lx2} y2={ly} stroke={COLOR[m]} strokeOpacity={0.8} strokeWidth={1.4} />
                      <polygon points={triPoints(SHAPE[m], (lx1 + lx2) / 2, ly, 3.7)} fill={COLOR[m]} />
                      <text x={tx} y={sp.cy + 115} fontFamily={FONT} fontSize={23} fill="#000">{m}</text>
                    </g>
                  );
                })}
              </g>
            )} />
        )}
      </ComposedChart>
    </div>
  );
}

export default function App() {
  return (
    <div style={{ position: 'absolute', left: 0, top: 0, width: 548, height: 1623, overflow: 'hidden', background: '#fff' }}>
      {panels.map((p) => <Panel key={p.key} p={p} />)}
    </div>
  );
}
